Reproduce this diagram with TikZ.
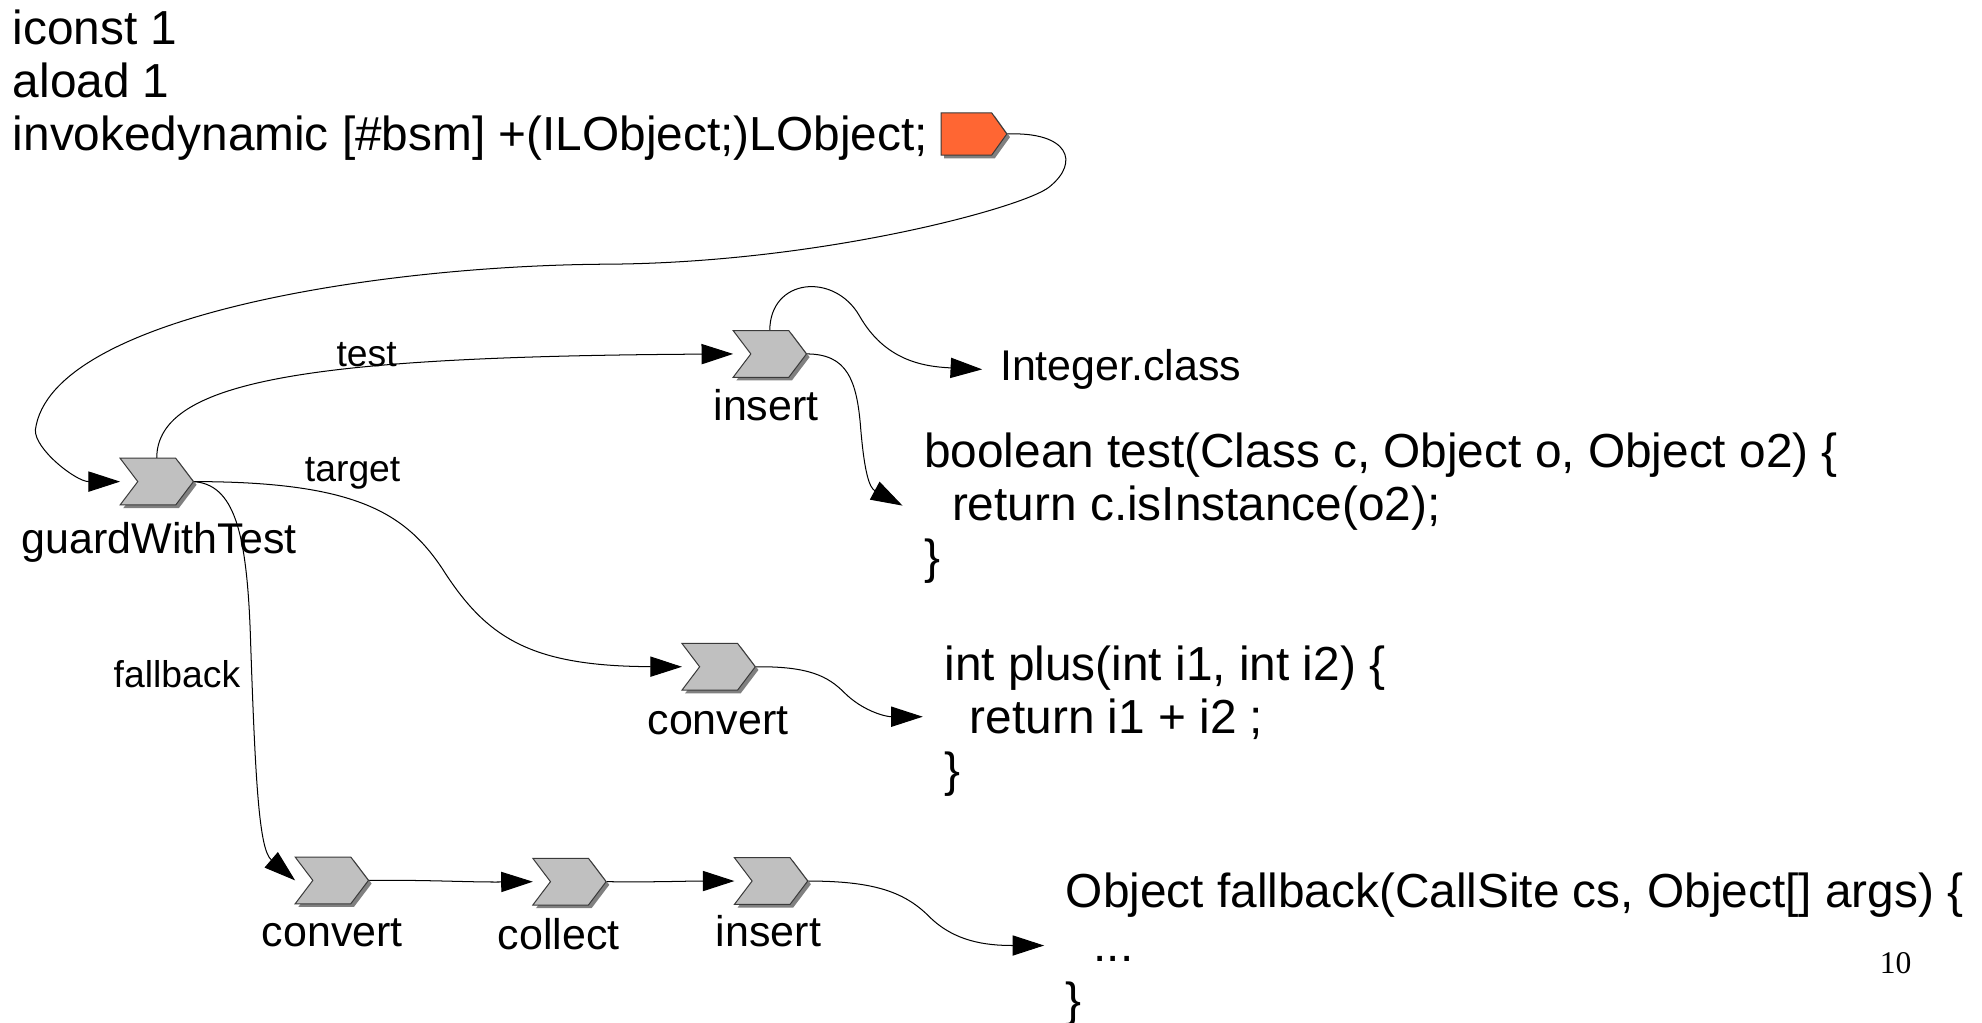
\documentclass[tikz,border=0pt]{standalone}
\usepackage{fontspec}
\setmainfont{Liberation Sans}
\newfontfamily\serifnum{Liberation Serif}
\usetikzlibrary{arrows.meta,calc}
\definecolor{chevfill}{HTML}{C0C0C0}
\definecolor{chevshadow}{HTML}{808080}
\definecolor{chevline}{HTML}{3A3A3A}
\definecolor{bsmfill}{HTML}{FF6633}
\newcommand\codelines[1]{\begin{tabular}[t]{@{}l@{}}#1\end{tabular}}
% #1 node name, #2 notch depth, #3 tip depth, #4 fill colour
\newcommand\drawchevron[4]{%
  \fill[chevshadow] ($(#1.north west)+(2.5,2.5)$) -- ($(#1.north east)+(-#3+2.5,2.5)$) -- ($(#1.east)+(2.5,2.5)$) -- ($(#1.south east)+(-#3+2.5,2.5)$) -- ($(#1.south west)+(2.5,2.5)$) -- ($(#1.west)+(#2+2.5,2.5)$) -- cycle;
  \filldraw[fill=#4, draw=chevline, line width=0.8pt] (#1.north west) -- ($(#1.north east)+(-#3,0)$) -- (#1.east) -- ($(#1.south east)+(-#3,0)$) -- (#1.south west) -- ($(#1.west)+(#2,0)$) -- cycle;
}
\tikzset{
  chevnode/.style={rectangle, inner sep=0pt, outer sep=0pt, minimum width=58pt, minimum height=37pt},
  chevlabel/.style={anchor=base, inner sep=0pt, font=\fontsize{34}{40}\selectfont},
  edgelabel/.style={anchor=base, inner sep=0pt, font=\fontsize{29.5}{35}\selectfont},
  conn/.style={line width=0.8pt, -{Triangle[length=25pt,width=16pt]}},
  codetext/.style={anchor=base west, inner sep=0pt, font=\fontsize{37.8}{42}\selectfont},
}
\begin{document}
\begin{tikzpicture}[x=1pt,y=-1pt]
\useasboundingbox (0,0) rectangle (1568,809);

% header text
\node[codetext] (hdr) at (10,35) {\codelines{iconst 1\\aload 1\\invokedynamic [\#bsm] +(ILObject;)LObject;}};

% chevron nodes
\node[chevnode, minimum width=52pt, minimum height=33.5pt] (bsm) at (770.5,106) {};
\node[chevnode] (gwt) at (124,381) {};
\node[chevnode] (ins1) at (609,280) {};
\node[chevnode] (conv1) at (568.5,527.5) {};
\node[chevnode] (conv2) at (262.5,696.5) {};
\node[chevnode] (coll) at (450.5,697.5) {};
\node[chevnode] (ins2) at (610,697) {};

% texts
\node[anchor=base west, inner sep=0pt, font=\fontsize{34}{40}\selectfont] (intcls) at (791,301) {Integer.class};
\node[codetext] (testcode) at (731,370) {\codelines{boolean test(Class c, Object o, Object o2) \{\\\hspace{22pt}return c.isInstance(o2);\\\}}};
\node[codetext] (pluscode) at (747,538) {\codelines{int plus(int i1, int i2) \{\\\hspace{20pt}return i1 + i2 ;\\\}}};
\node[codetext, font=\fontsize{37.8}{43}\selectfont] (fbcode) at (843,718) {\codelines{Object fallback(CallSite cs, Object[] args) \{\\\hspace{22pt}...\\\}}};
\node[anchor=base west, inner sep=0pt, font=\serifnum\fontsize{25}{30}\selectfont] (pagenum) at (1487,770) {10};

% connector free ends
\coordinate (testin) at (714,400);
\coordinate (plusin) at (730,567);
\coordinate (fbin) at (826,748);

% connectors
\draw[conn] (bsm.east) .. controls (845,104) and (855,128) .. (830,148) .. controls (810,164) and (650,208) .. (480,209) .. controls (300,210) and (40,250) .. (28,340) .. controls (27,355) and (60,381) .. (gwt.west);
\draw[conn] (gwt.north) .. controls (124,300) and (250,282) .. (ins1.west);
\draw[conn] (ins1.north) .. controls (609,220) and (660,215) .. (680,250) .. controls (700,285) and (730,290) .. ([xshift=-14pt]intcls.west);
\draw[conn] (ins1.east) .. controls (670,280) and (678,300) .. (681,340) .. controls (684,375) and (688,386) .. (testin);
\draw[conn] (gwt.east) .. controls (280,381) and (320,405) .. (350,450) .. controls (385,505) and (420,527) .. (conv1.west);
\draw[conn] (gwt.east) .. controls (185,383) and (195,420) .. (198,500) .. controls (202,620) and (205,672) .. (conv2.west);
\draw[conn] (conv1.east) .. controls (640,527) and (655,535) .. (668,548) .. controls (682,562) and (700,567) .. (plusin);
\draw[conn] (conv2.east) .. controls (340,696) and (370,698) .. (coll.west);
\draw[conn] (coll.east) .. controls (520,698) and (540,697) .. (ins2.west);
\draw[conn] (ins2.east) .. controls (690,697) and (715,705) .. (735,725) .. controls (755,745) and (780,748) .. (fbin);

% chevron shapes
\drawchevron{bsm}{0}{12}{bsmfill}
\drawchevron{gwt}{14}{14}{chevfill}
\drawchevron{ins1}{14}{14}{chevfill}
\drawchevron{conv1}{14}{14}{chevfill}
\drawchevron{conv2}{14}{14}{chevfill}
\drawchevron{coll}{14}{14}{chevfill}
\drawchevron{ins2}{14}{14}{chevfill}

% labels
\node[chevlabel] (gwtL) at (126,438) {guardWithTest};
\node[chevlabel] (ins1L) at (606,333) {insert};
\node[chevlabel] (conv1L) at (568,581) {convert};
\node[chevlabel] (conv2L) at (263,749) {convert};
\node[chevlabel] (collL) at (442,751) {collect};
\node[chevlabel] (ins2L) at (608,749) {insert};
\node[edgelabel] (testL) at (290,290) {test};
\node[edgelabel] (targetL) at (279,381) {target};
\node[edgelabel] (fallbackL) at (140,544) {fallback};
\end{tikzpicture}
\end{document}
